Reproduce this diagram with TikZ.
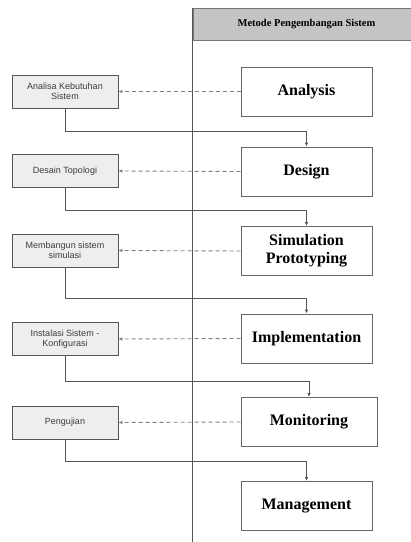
\documentclass[tikz,border=0pt]{standalone}
\usepackage{fontspec}
\setmainfont{Liberation Serif}
\setsansfont{Liberation Sans}
\usetikzlibrary{arrows.meta, positioning, calc}
\definecolor{cLine}{RGB}{85,85,85}
\definecolor{cHead}{RGB}{196,196,196}
\definecolor{cStep}{RGB}{238,238,238}
\definecolor{cText}{RGB}{60,60,60}
\tikzset{
	header/.style   ={rectangle, draw=cLine!80, line width=1pt, fill=cHead, minimum width=227pt, minimum height=32pt, inner sep=0pt, font=\fontsize{10.5}{12}\selectfont\bfseries},
	phase/.style    ={rectangle, draw=cLine!90, line width=1pt, fill=white, minimum height=49pt, align=center, font=\fontsize{16}{18}\selectfont\bfseries},
	task/.style     ={rectangle, draw=cLine, line width=0.8pt, fill=cStep, minimum width=106pt, minimum height=33pt, align=center, text=cText, font=\sffamily\fontsize{9}{10.5}\selectfont},
	lane/.style     ={draw=cLine, line width=1.3pt},
	backarrow/.style={-{Latex[length=4pt,width=3.5pt]}, dash pattern=on 4pt off 3pt, draw=gray, line width=0.9pt},
	nextarrow/.style={-{Latex[length=4pt,width=3.5pt]}, draw=cLine, line width=0.8pt},
}
\begin{document}
\begin{tikzpicture}[x=1pt, y=1pt]
	\useasboundingbox (0,0) rectangle (411,-542);
	% swimlane
	\node[header] (hd) at (306.5,-24) {Metode Pengembangan Sistem};
	\coordinate (laneend) at (hd.north west |- 0,-542);
	\draw[lane] (hd.north west) -- (laneend);
	% phases on the right
	\foreach \nm/\y/\w/\txt in {anl/91.5/131/Analysis, des/171.5/131/Design, sim/251/131/{Simulation\\Prototyping},
			imp/338.5/131/Implementation, mon/422/136/Monitoring, man/506/131/Management} {
		\node[phase, minimum width=\w pt] (\nm) at (306.5+\w/2-65.5,-\y) {\txt};
	}
	% tasks on the left
	\node[task] (kebutuhan) at (65,-91.5) {Analisa Kebutuhan\\Sistem};
	\node[task] (topologi)  at (65,-171)  {Desain Topologi};
	\node[task] (simulasi)  at (65,-250.5) {Membangun sistem\\simulasi};
	\node[task] (instalasi) at (65,-339)  {Instalasi Sistem -\\Konfigurasi};
	\node[task] (pengujian) at (65,-422.5) {Pengujian};
	% dashed arrows back to the tasks
	\foreach \p/\t in {anl/kebutuhan, des/topologi, sim/simulasi, imp/instalasi, mon/pengujian} {
		\draw[backarrow] (\p.west) -- (\t.east);
	}
	% task to next phase
	\foreach \t/\p/\d in {kebutuhan/des/23, topologi/sim/22, simulasi/imp/31, instalasi/mon/25, pengujian/man/22} {
		\draw[nextarrow] (\t.south) -- ++(0,-\d) -| (\p.north);
	}
\end{tikzpicture}
\end{document}
